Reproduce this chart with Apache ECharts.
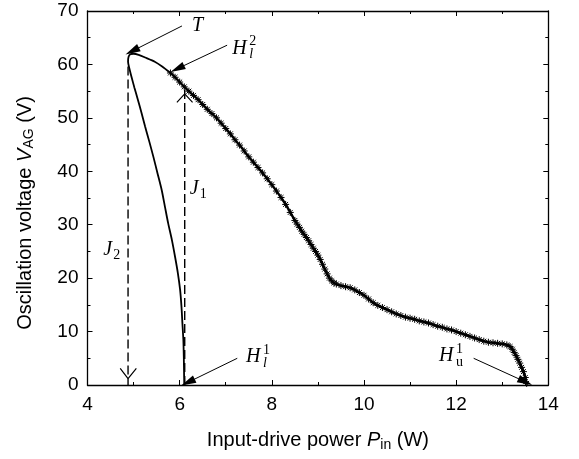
<!DOCTYPE html>
<html><head><meta charset="utf-8">
<script src="https://cdn.jsdelivr.net/npm/echarts@6/dist/echarts.min.js"></script>
<style>html,body{margin:0;padding:0;background:#fff}#c{width:579px;height:459px}</style>
</head><body><div id="c"></div>
<script>
// axes
const xRange = [4, 14], xStep = 2;
const yRange = [0, 70], yStep = 10;
const xTitle = ['Input-drive power ', 'P', 'in', ' (W)'];
const yTitle = ['Oscillation voltage ', 'V', 'AG', ' (V)'];

// solid branch: from H_l^1 up the lower branch to turning point T, then to H_l^2
const solidBranch = [
  [6.10,0],[6.095,2.5],[6.09,5.3],[6.08,8.5],[6.06,11.5],[6.04,14.6],[6.01,17.8],[5.96,21.0],
  [5.90,24.0],[5.83,27.2],[5.75,30.3],[5.68,33.4],[5.61,36.5],[5.52,39.6],[5.43,42.7],[5.34,45.6],
  [5.25,48.4],[5.17,51.0],[5.09,53.5],[5.02,55.6],[4.96,57.5],[4.91,59.2],[4.88,60.5],[4.89,61.4],
  [4.93,61.9],[5.00,62.0],[5.11,61.8],[5.25,61.3],[5.46,60.5],[5.62,59.6],[5.80,58.4]
];
// measured branch with star markers
const markedBranch = [
  [5.80,58.4],[5.90,57.6],[6.00,56.7],[6.10,55.8],[6.20,55.0],[6.30,54.2],[6.40,53.4],[6.50,52.5],
  [6.60,51.6],[6.70,50.8],[6.80,50.0],[6.90,49.0],[7.00,48.0],[7.10,47.0],[7.20,45.9],[7.30,44.9],
  [7.40,43.8],[7.50,42.7],[7.60,41.7],[7.70,40.7],[7.80,39.7],[7.90,38.6],[8.00,37.5],[8.10,36.3],
  [8.20,35.1],[8.30,33.8],[8.40,32.3],[8.50,30.8],[8.55,30.1],[8.60,29.5],[8.65,28.8],[8.70,28.2],
  [8.75,27.6],[8.80,27.0],[8.85,26.3],[8.90,25.6],[8.95,25.0],[9.00,24.3],[9.05,23.5],[9.10,22.6],
  [9.15,21.7],[9.20,20.8],[9.25,20.0],[9.30,19.5],[9.35,19.1],[9.40,18.9],[9.50,18.6],[9.60,18.4],
  [9.70,18.2],[9.80,17.8],[9.90,17.3],[10.00,16.8],[10.10,16.1],[10.20,15.4],[10.30,14.9],[10.40,14.5],
  [10.50,14.1],[10.60,13.7],[10.70,13.3],[10.80,13.0],[10.90,12.7],[11.00,12.5],[11.10,12.3],[11.20,12.0],
  [11.30,11.8],[11.40,11.6],[11.50,11.3],[11.60,11.0],[11.70,10.8],[11.80,10.5],[11.90,10.3],[12.00,10.0],
  [12.10,9.7],[12.20,9.4],[12.30,9.1],[12.40,8.8],[12.50,8.5],[12.60,8.2],[12.70,8.0],[12.80,7.9],
  [12.90,7.8],[13.00,7.7],[13.10,7.5],[13.17,7.2],[13.22,6.7],[13.26,6.1],[13.30,5.5],[13.34,4.8],
  [13.38,4.1],[13.42,3.3],[13.46,2.5],[13.50,1.4],[13.53,0.3]
];
// jump lines
const jumpJ2 = [[4.88,59.6],[4.88,0]];
const jumpJ1 = [[6.11,0],[6.11,55.6]];
const headJ2 = [[4.71,3.1],[4.88,1.2],[5.06,3.1]];
const headJ1 = [[5.94,52.9],[6.11,54.5],[6.28,52.9]];
// annotation arrows [from, to]
const arrows = [
  [[6.05,67.2],[4.97,62.5]],
  [[7.03,63.6],[5.95,59.2]],
  [[7.25,5.0],[6.18,0.5]],
  [[12.38,5.0],[13.50,0.6]]
];
// annotation labels: anchor (left, middle of main letter), main, sup, sub
const labelAt   = [[6.27,67.2],[7.14,63.0],[6.22,36.8],[4.34,25.3],[7.44,5.2],[11.63,5.4]];
const labelMain = ['T','H','J','J','H','H'];
const labelSup  = ['','2','','','1','1'];
const labelSub  = ['','l','1','2','l','u'];
const subItalic = [false,true,false,false,true,false];

const chart = echarts.init(document.getElementById('c'), null, {renderer:'canvas'});
const black = '#000';
const sans = 'Liberation Sans';
const serif = 'Liberation Serif';

function axisCommon(range, step, showLabel){
  return {
    type:'value', min:range[0], max:range[1], interval:step,
    axisLine:{show:true, onZero:false, lineStyle:{color:black, width:1.3}},
    axisTick:{show:true, inside:true, length:5, lineStyle:{color:black, width:1}},
    minorTick:{show:true, splitNumber:2, length:3, lineStyle:{color:black, width:1}},
    splitLine:{show:false},
    axisLabel:{show:showLabel, color:black, fontFamily:sans, fontSize:19, margin:9}
  };
}
const richTitle = {
  n:{fontFamily:sans, fontSize:20, color:black},
  i:{fontFamily:sans, fontSize:20, color:black, fontStyle:'italic'},
  s:{fontFamily:sans, fontSize:14, color:black, padding:[9,0,0,0]}
};
const xb = axisCommon(xRange, xStep, true);
xb.position='bottom';
xb.name = '{n|'+xTitle[0]+'}{i|'+xTitle[1]+'}{s|'+xTitle[2]+'}{n|'+xTitle[3]+'}';
xb.nameLocation='middle'; xb.nameGap=44;
xb.nameTextStyle={rich:richTitle};
xb.axisLabel.margin = 10;
const xt = axisCommon(xRange, xStep, false); xt.position='top';
const yl = axisCommon(yRange, yStep, true); yl.position='left';
const yr = axisCommon(yRange, yStep, false); yr.position='right';

const star = 'path://M5,0L5,10M0,5L10,5M1.5,1.5L8.5,8.5M8.5,1.5L1.5,8.5';

chart.setOption({
  animation:false,
  backgroundColor:'#fff',
  grid:{left:87.5, right:30.7, top:11, bottom:74, containLabel:false},
  xAxis:[xb, xt],
  yAxis:[yl, yr],
  series:[
    {type:'line', data:solidBranch, showSymbol:false, smooth:0.25, lineStyle:{color:black, width:1.8}, z:3},
    {type:'line', data:markedBranch, showSymbol:true, symbol:star, symbolSize:7,
     itemStyle:{color:'none', borderColor:black, borderWidth:1},
     lineStyle:{color:black, width:2.4}, smooth:0.2, z:4},
    {type:'line', data:jumpJ2, showSymbol:false, lineStyle:{color:black, width:1.4, type:[9,4]}, z:2},
    {type:'line', data:jumpJ1, showSymbol:false, lineStyle:{color:black, width:1.4, type:[9,4]}, z:2},
    {type:'line', data:headJ2, showSymbol:false, lineStyle:{color:black, width:1.2}, z:2},
    {type:'line', data:headJ1, showSymbol:false, lineStyle:{color:black, width:1.2}, z:2},
    {type:'line', data:[], showSymbol:false, silent:true,
     markLine:{silent:true, symbol:['none','triangle'], symbolSize:[8,15],
       label:{show:false}, lineStyle:{color:black, width:1, type:'solid'},
       emphasis:{disabled:true},
       data: arrows.map(a => [{coord:a[0]},{coord:a[1]}])}}
  ]
});

function drawLabels(){
  const els = [];
  labelAt.forEach((p, k) => {
    const px = chart.convertToPixel({xAxisIndex:0, yAxisIndex:0}, p);
    els.push({type:'text', x:px[0], y:px[1], silent:true,
      style:{text:labelMain[k], font:'italic 20px "'+serif+'"', fill:black, align:'left', verticalAlign:'middle'}});
    const w = labelMain[k] === 'H' ? 16 : (labelMain[k] === 'J' ? 9 : 13);
    if (labelSup[k]) els.push({type:'text', x:px[0]+w+1, y:px[1]-7, silent:true,
      style:{text:labelSup[k], font:'14px "'+serif+'"', fill:black, align:'left', verticalAlign:'middle'}});
    if (labelSub[k]) els.push({type:'text', x:px[0]+w+1, y:px[1]+6, silent:true,
      style:{text:labelSub[k], font:(subItalic[k]?'italic ':'')+'14px "'+serif+'"', fill:black, align:'left', verticalAlign:'middle'}});
  });
  // y-axis title, centred on the plot's vertical extent
  const top = chart.convertToPixel({yAxisIndex:0}, yRange[1]);
  const bot = chart.convertToPixel({yAxisIndex:0}, yRange[0]);
  els.push({type:'text', x:25, y:(top+bot)/2 + 15, rotation:Math.PI/2, silent:true,
    style:{text:'{n|'+yTitle[0]+'}{i|'+yTitle[1]+'}{s|'+yTitle[2]+'}{n|'+yTitle[3]+'}',
      rich:richTitle, align:'center', verticalAlign:'middle', fill:black}});
  chart.setOption({graphic:els});
}
drawLabels();
</script></body></html>
